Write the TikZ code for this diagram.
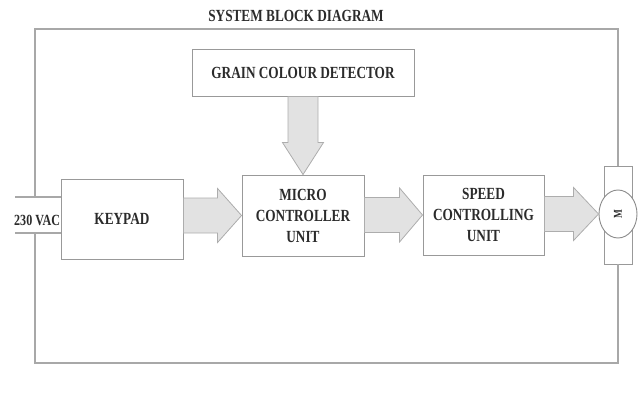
\documentclass[tikz,border=0pt]{standalone}
\usepackage{fontspec}
\setmainfont{Liberation Serif}[FakeStretch=0.78]
\usetikzlibrary{calc,shapes.geometric}
\definecolor{txt}{HTML}{2B2B2B}
\definecolor{edge}{HTML}{999999}
\definecolor{frm}{HTML}{A8A8A8}
\definecolor{fatfill}{HTML}{E2E2E2}
\tikzset{
  blk/.style={draw=edge, line width=0.9pt, fill=white, align=center, text=txt,
    font=\bfseries\fontsize{17}{21}\selectfont, inner sep=0pt},
  frame/.style={draw=frm, line width=1.3pt},
  fat/.style={draw=edge!80, fill=fatfill, line width=0.8pt, line join=miter},
  lbl/.style={text=txt, font=\bfseries\fontsize{17}{21}\selectfont, inner sep=0pt}
}
\begin{document}
\begin{tikzpicture}[x=1pt,y=-1pt]
\useasboundingbox (0,0) rectangle (638,394);
% title
\node[lbl] (title) at (296,16) {SYSTEM BLOCK DIAGRAM};
% blocks
\node[blk, minimum width=222pt, minimum height=47pt] (gcd) at (303,72.5) {GRAIN COLOUR DETECTOR};
\node[blk, minimum width=122pt, minimum height=80pt] (kp) at (122,219) {KEYPAD};
\node[blk, minimum width=122pt, minimum height=81pt] (mcu) at (303,215.5) {MICRO\\CONTROLLER\\UNIT};
\node[blk, minimum width=121pt, minimum height=80pt] (spd) at (483.5,215) {SPEED\\CONTROLLING\\UNIT};
% motor
\node[draw=edge, line width=0.9pt, fill=white, minimum width=28pt, minimum height=98pt, inner sep=0pt] (mrect) at (618,215) {};
\node[ellipse, draw=edge!90!black, line width=0.9pt, fill=white, minimum width=38pt, minimum height=48pt, inner sep=0pt] (motor) at (618,214) {};
\node[lbl, rotate=90, font=\bfseries\fontsize{12}{12}\selectfont] (mlab) at (motor.center) {M};
% supply
\node[lbl, anchor=west, font=\bfseries\fontsize{15.5}{15.5}\selectfont] (vac) at (14,220) {230 VAC};
\coordinate (lt) at (15,197);
\coordinate (lb) at (15,233);
\coordinate (ft) at (35,197);
\coordinate (fb) at (35,233);
\coordinate (c1) at (35,29);
\coordinate (c2) at (618,29);
\coordinate (c3) at (618,363);
\coordinate (c4) at (35,363);
% frame
\draw[frame] (ft) -- (c1) -- (c2) -- (mrect.north);
\draw[frame] (mrect.south) -- (c3) -- (c4) -- (fb);
\draw[frame] (lt) -- (lt -| kp.west);
\draw[frame] (lb) -- (lb -| kp.west);
% fat arrows
\draw[fat] let \p1=(kp.east), \p2=(mcu.west) in
  (\x1,\y2+17.5pt) -- (\x2-24pt,\y2+17.5pt) -- (\x2-24pt,\y2+27pt) -- (\x2,\y2)
  -- (\x2-24pt,\y2-27pt) -- (\x2-24pt,\y2-17.5pt) -- (\x1,\y2-17.5pt) -- cycle;
\draw[fat] let \p1=(mcu.east), \p2=(spd.west) in
  (\x1,\y2+17.5pt) -- (\x2-23pt,\y2+17.5pt) -- (\x2-23pt,\y2+27pt) -- (\x2,\y2)
  -- (\x2-23pt,\y2-27pt) -- (\x2-23pt,\y2-17.5pt) -- (\x1,\y2-17.5pt) -- cycle;
\draw[fat] let \p1=(spd.east), \p2=(motor.west) in
  (\x1,\y2+17.5pt) -- (\x2-25pt,\y2+17.5pt) -- (\x2-25pt,\y2+26.5pt) -- (\x2,\y2)
  -- (\x2-25pt,\y2-26.5pt) -- (\x2-25pt,\y2-17.5pt) -- (\x1,\y2-17.5pt) -- cycle;
\draw[fat] let \p1=(gcd.south), \p2=(mcu.north) in
  (\x2-15pt,\y1) -- (\x2-15pt,\y2+32pt) -- (\x2-20.5pt,\y2+32pt) -- (\x2,\y2)
  -- (\x2+20.5pt,\y2+32pt) -- (\x2+15pt,\y2+32pt) -- (\x2+15pt,\y1) -- cycle;
\end{tikzpicture}
\end{document}
